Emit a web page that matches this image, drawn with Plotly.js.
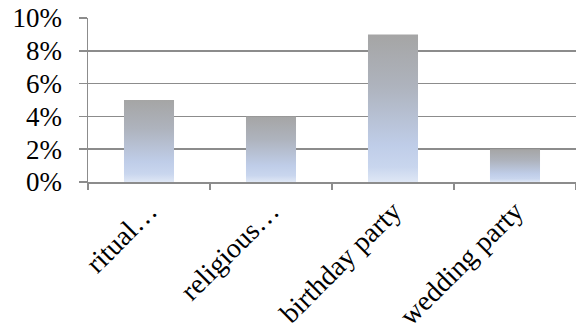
<!DOCTYPE html>
<html>
<head>
<meta charset="utf-8">
<script src="https://cdn.plot.ly/plotly-3.0.1.min.js"></script>
<style>
html,body{margin:0;padding:0;background:#fff;}
#chart{width:576px;height:335px;}
</style>
</head>
<body>
<div id="chart"></div>
<script>
const categories = ["ritual…", "religious…", "birthday party", "wedding party"];
const values = [0.05, 0.04, 0.09, 0.02];
const yTickVals = [0, 0.02, 0.04, 0.06, 0.08, 0.10];
const yTickText = ["0%", "2%", "4%", "6%", "8%", "10%"];

const trace = {
  type: "bar",
  x: categories,
  y: values,
  marker: {color: "#b8c3d8", line: {width: 0}},
  hoverinfo: "skip"
};

const yFont = {family: "Liberation Serif", size: 27, color: "#000"};
const xFont = {family: "Liberation Serif", size: 28, color: "#000"};

const layout = {
  width: 576,
  height: 335,
  margin: {l: 88, r: 0, t: 18, b: 153, pad: 0},
  paper_bgcolor: "#fff",
  plot_bgcolor: "#fff",
  bargap: 0.59,
  showlegend: false,
  font: yFont,
  xaxis: {
    type: "category",
    tickangle: -45,
    tickfont: xFont,
    showline: true,
    linecolor: "#8c8c8c",
    linewidth: 1.5,
    ticks: "outside",
    tickson: "boundaries",
    ticklen: 6,
    tickwidth: 1.5,
    tickcolor: "#8c8c8c",
    ticklabelshift: 0,
    ticklabelstandoff: 0,
    showgrid: false,
    zeroline: false,
    fixedrange: true
  },
  yaxis: {
    range: [0, 0.10],
    tickvals: yTickVals,
    ticktext: yTickText,
    tickfont: yFont,
    showline: true,
    linecolor: "#8c8c8c",
    linewidth: 1.5,
    ticks: "outside",
    ticklen: 8,
    tickwidth: 1.5,
    tickcolor: "#8c8c8c",
    ticklabelstandoff: 11,
    showgrid: true,
    gridcolor: "#8c8c8c",
    gridwidth: 1.5,
    zeroline: false,
    fixedrange: true
  }
};

Plotly.newPlot("chart", [trace], layout, {staticPlot: true, displayModeBar: false}).then(function(gd){
  const svg = gd.querySelector("svg.main-svg");
  const ns = "http://www.w3.org/2000/svg";
  let defs = svg.querySelector("defs");
  if (!defs) { defs = document.createElementNS(ns, "defs"); svg.insertBefore(defs, svg.firstChild); }
  const grad = document.createElementNS(ns, "linearGradient");
  grad.setAttribute("id", "barGrad");
  grad.setAttribute("x1", "0"); grad.setAttribute("y1", "0");
  grad.setAttribute("x2", "0"); grad.setAttribute("y2", "1");
  [["0", "#a5a5a5"], ["0.35", "#aeb3bd"], ["0.75", "#bfcde8"], ["0.9", "#c9d6ee"], ["1", "#dfe7f5"]].forEach(function(s){
    const st = document.createElementNS(ns, "stop");
    st.setAttribute("offset", s[0]);
    st.setAttribute("stop-color", s[1]);
    grad.appendChild(st);
  });
  defs.appendChild(grad);
  gd.querySelectorAll(".bars .point path").forEach(function(p){
    p.style.fill = "url(#barGrad)";
  });
});
</script>
</body>
</html>
